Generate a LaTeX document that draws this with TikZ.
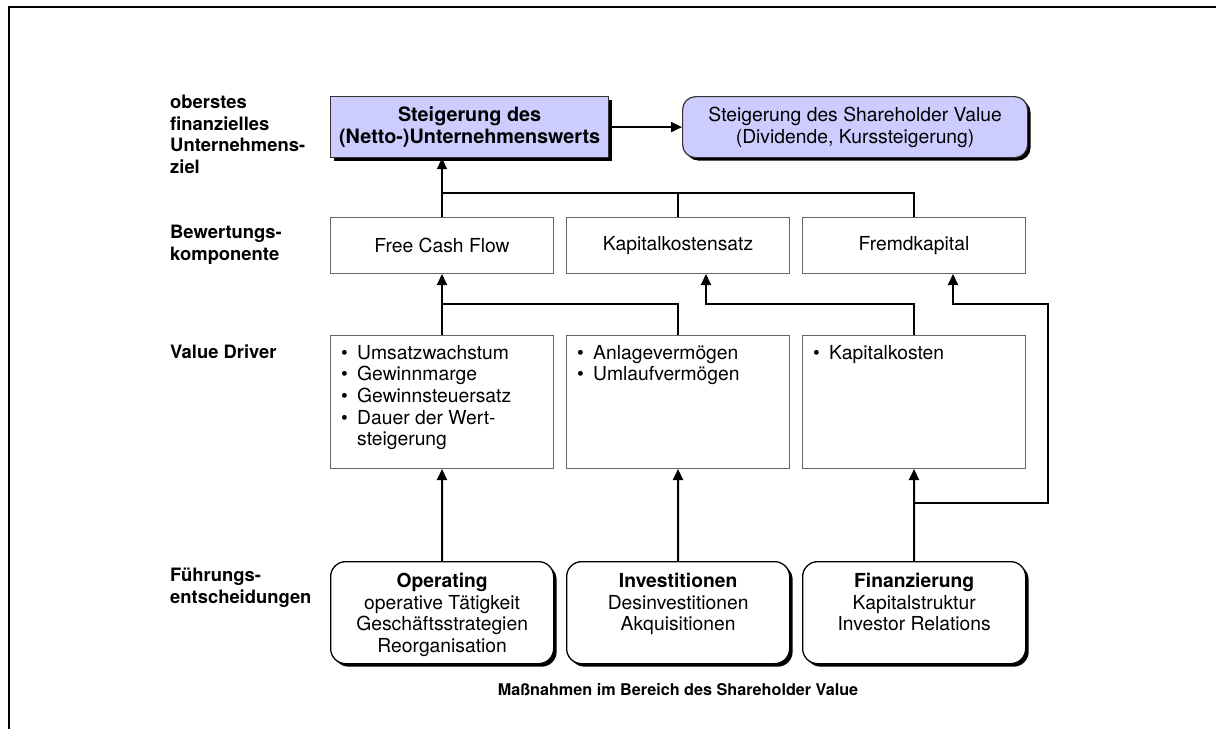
\documentclass[tikz,border=0pt]{standalone}
\usepackage{fontspec}
\setmainfont{TeX Gyre Heros}
\usetikzlibrary{arrows.meta,shadows,calc}
\definecolor{goalfill}{RGB}{204,204,255}
\begin{document}
\begin{tikzpicture}[x=1pt,y=-1pt,
  every node/.style={font=\fontsize{19.3}{21.6}\selectfont, inner sep=0pt},
  conn/.style={line width=2pt},
  arr/.style={conn,-{Triangle[length=11pt,width=10pt]}},
  shadowed/.style={drop shadow={shadow xshift=3pt,shadow yshift=-3pt,opacity=1,fill=black}},
  goalbox/.style={draw=black!80, line width=1.2pt, fill=goalfill, shadowed,
    anchor=north west, minimum width=278pt, minimum height=61pt, align=center},
  plainbox/.style={draw=black!60, line width=1pt, fill=white,
    anchor=north west, minimum width=223pt},
  decbox/.style={draw=black, line width=1.3pt, fill=white, rounded corners=15pt, shadowed,
    anchor=north west, minimum width=223pt, minimum height=102pt},
  rowlabel/.style={font=\fontsize{18.4}{21.6}\selectfont\bfseries, align=left, anchor=north west},
  bodytext/.style={align=center, anchor=north}]
\useasboundingbox (0,0) rectangle (1216,729);

% frame
\draw[line width=2pt] (9,729) -- (9,7) -- (1216,7);

% row labels
\node[rowlabel] (l1) at (170,95) {oberstes\\finanzielles\\Unternehmens-\\ziel};
\node[rowlabel] (l2) at (170,225) {Bewertungs-\\komponente};
\node[rowlabel] (l3) at (170,345) {Value Driver};
\node[rowlabel] (l4) at (170,568) {Führungs-\\entscheidungen};

% goals
\node[goalbox, font=\fontsize{19.8}{21.6}\selectfont\bfseries] (goal) at (330,96) {Steigerung des\\(Netto-)Unternehmenswerts};
\node[goalbox, rounded corners=13pt, minimum width=345pt] (shv) at (682,96) {Steigerung des Shareholder Value\\(Dividende, Kurssteigerung)};

% valuation components
\node[plainbox, minimum height=56pt] (fcf) at (330,217) {Free Cash Flow};
\node[plainbox, minimum height=56pt] (kks) at (566,217) {Kapitalkostensatz};
\node[plainbox, minimum height=56pt] (fk) at (802,217) {Fremdkapital};

% value drivers
\node[plainbox, minimum height=133pt] (vd1) at (330,335) {};
\node[plainbox, minimum height=133pt] (vd2) at (566,335) {};
\node[plainbox, minimum height=133pt] (vd3) at (802,335) {};
\newcommand{\bul}{\makebox[16pt][l]{\textbullet}}
\node[anchor=north west, align=left] (vd1t) at ($(vd1.north west)+(11,10)$)
  {\bul Umsatzwachstum\\\bul Gewinnmarge\\\bul Gewinnsteuersatz\\\bul Dauer der Wert-\\\phantom{\bul}steigerung};
\node[anchor=north west, align=left] (vd2t) at ($(vd2.north west)+(11,10)$)
  {\bul Anlagevermögen\\\bul Umlaufvermögen};
\node[anchor=north west, align=left] (vd3t) at ($(vd3.north west)+(11,10)$)
  {\bul Kapitalkosten};

% management decisions
\node[decbox] (op) at (330,561) {};
\node[decbox] (inv) at (566,561) {};
\node[decbox] (fin) at (802,561) {};
\node[bodytext] (opt) at ($(op.north)+(0,12)$) {\textbf{Operating}\\operative Tätigkeit\\Geschäftsstrategien\\Reorganisation};
\node[bodytext] (invt) at ($(inv.north)+(0,12)$) {\textbf{Investitionen}\\Desinvestitionen\\Akquisitionen};
\node[bodytext] (fint) at ($(fin.north)+(0,12)$) {\textbf{Finanzierung}\\Kapitalstruktur\\Investor Relations};

\node[font=\fontsize{16.2}{20}\selectfont\bfseries] (caption) at (678,690) {Maßnahmen im Bereich des Shareholder Value};

% connectors: goal level
\draw[arr] (goal.east) -- (shv.west);
\coordinate (busTop) at ($(fcf.north)+(0,-24)$);
\draw[arr] (fcf.north) -- (fcf.north |- goal.south);
\draw[conn] (kks.north) |- (busTop);
\draw[conn] (fk.north) |- (busTop);

% connectors: value drivers to components
\coordinate (lvl2) at (0,304);
\coordinate (kkIn) at ($(kks.south)+(28,0)$);
\coordinate (fkIn) at ($(fk.south)+(39,0)$);
\coordinate (loopTop) at (1048,304);
\coordinate (loopBot) at (1048,503);
\draw[arr] (vd1.north) -- (fcf.south);
\draw[conn] (vd2.north) |- (vd1.north |- lvl2);
\draw[arr] (vd3.north) -- (vd3.north |- lvl2) -- (kkIn |- lvl2) -- (kkIn);
\draw[arr] (fin.north |- loopBot) -- (loopBot) -- (loopTop) -- (fkIn |- lvl2) -- (fkIn);

% connectors: decisions to value drivers
\draw[arr] (op.north) -- (vd1.south);
\draw[arr] (inv.north) -- (vd2.south);
\draw[arr] (fin.north) -- (vd3.south);
\end{tikzpicture}
\end{document}
